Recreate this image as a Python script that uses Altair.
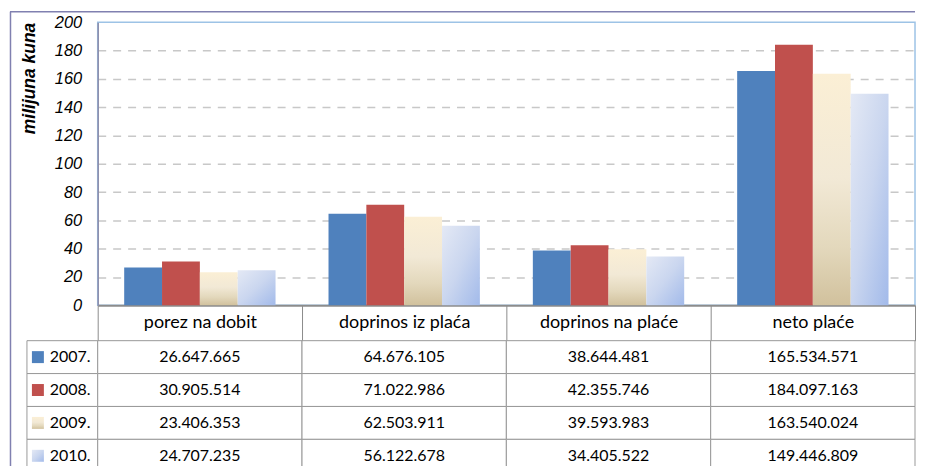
import altair as alt
import pandas as pd

categories = ["porez na dobit", "doprinos iz plaća", "doprinos na plaće", "neto plaće"]
years = ["2007.", "2008.", "2009.", "2010."]
values_2007 = [26647665, 64676105, 38644481, 165534571]
values_2008 = [30905514, 71022986, 42355746, 184097163]
values_2009 = [23406353, 62503911, 39593983, 163540024]
values_2010 = [24707235, 56122678, 34405522, 149446809]
y_ticks = [0, 20, 40, 60, 80, 100, 120, 140, 160, 180, 200]

series = dict(zip(years, [values_2007, values_2008, values_2009, values_2010]))

rows = []
for yr, vals in series.items():
    for cat, v in zip(categories, vals):
        rows.append({"year": yr, "category": cat, "mil": v / 1e6,
                     "label": f"{v:,}".replace(",", ".")})
df = pd.DataFrame(rows)
legend_df = pd.DataFrame({"year": years})

fills = {
    "2007.": "#4F81BD",
    "2008.": "#C0504D",
    "2009.": alt.Gradient(gradient="linear", x1=0, y1=0, x2=0, y2=1, stops=[
        alt.GradientStop(offset=0, color="#FBEFD5"),
        alt.GradientStop(offset=0.45, color="#F2E9D6"),
        alt.GradientStop(offset=0.75, color="#E3D8BC"),
        alt.GradientStop(offset=1, color="#D1C19D")]),
    "2010.": alt.Gradient(gradient="linear", x1=0, y1=0, x2=1, y2=1, stops=[
        alt.GradientStop(offset=0, color="#E4E9F5"),
        alt.GradientStop(offset=0.5, color="#CAD6EF"),
        alt.GradientStop(offset=1, color="#A2BAEA")]),
}

FONT_AX = "Liberation Sans"
FONT_TB = "Lato"
GRAY = "#8C8C8C"
PLOT_W = 820
LEG_W = 71

x_scale = alt.Scale(domain=categories, paddingInner=0, paddingOuter=0)
xo_scale = alt.Scale(domain=years, paddingInner=0, paddingOuter=0.7)
y_scale = alt.Scale(domain=[0, 200], nice=False)

x_axis = alt.Axis(title=None, labelFont=FONT_TB, labelFontSize=18, labelColor="#000",
                  labelAngle=0, labelBaseline="middle", labelPadding=-17.75,
                  tickBand="extent", tickSize=35.5, tickColor=GRAY, tickWidth=1,
                  domainColor=GRAY, domainWidth=2, grid=False)
y_axis = alt.Axis(values=y_ticks, title="milijuna kuna", titleFont=FONT_AX,
                  titleFontSize=17.5, titleFontWeight="bold", titleFontStyle="italic",
                  titleColor="#000", titleAngle=270, titleX=-68, titleY=0,
                  titleAlign="right", titleBaseline="middle",
                  labelFont=FONT_AX, labelFontSize=16.5, labelFontStyle="italic",
                  labelColor="#000", labelPadding=16, ticks=False,
                  domainColor="#8C8CAA", domainWidth=1.5,
                  grid=True, gridColor="#C8C8C8", gridDash=[8, 7], gridWidth=1.5,
                  gridOpacity={"condition": {"test": "datum.value == 0 || datum.value == 200",
                                             "value": 0}, "value": 1})

bar_layers = []
for yr in years:
    bar_layers.append(
        alt.Chart(df).transform_filter(alt.datum.year == yr)
        .mark_bar(fill=fills[yr], opacity=1)
        .encode(
            x=alt.X("category:N", scale=x_scale, axis=x_axis, sort=categories),
            xOffset=alt.XOffset("year:N", scale=xo_scale, sort=years),
            y=alt.Y("mil:Q", scale=y_scale, axis=y_axis),
        )
    )
bars = alt.layer(*bar_layers).properties(
    width=PLOT_W, height=284,
    view=alt.ViewBackground(stroke="#9DC3E6", strokeWidth=1.5),
)

frame_df = pd.DataFrame({"k": [0]})
FRAME = "#8080B0"
blank = alt.layer(
    alt.Chart(frame_df).mark_rule(color=FRAME, strokeWidth=1.5).encode(
        x=alt.value(-16.5), y=alt.value(-10.5), y2=alt.value(452)),
    alt.Chart(frame_df).mark_rule(color=FRAME, strokeWidth=1.5).encode(
        x=alt.value(-17), x2=alt.value(LEG_W + PLOT_W), y=alt.value(-10.5)),
).properties(width=LEG_W, height=284)

TABLE_H = 132
row_scale = alt.Scale(domain=years, paddingInner=0, paddingOuter=0)

legend_cells = alt.Chart(legend_df).mark_rect(fill="white", stroke="#999999",
                                              strokeWidth=1).encode(
    x=alt.value(0), x2=alt.value(LEG_W),
    y=alt.Y("year:N", scale=row_scale, axis=None, sort=years),
)
legend_layers = [legend_cells]
for yr in years:
    legend_layers.append(
        alt.Chart(legend_df).transform_filter(alt.datum.year == yr)
        .mark_square(fill=fills[yr], size=144, opacity=1, strokeWidth=0)
        .encode(x=alt.value(11),
                y=alt.Y("year:N", scale=row_scale, axis=None, sort=years))
    )
legend_layers.append(
    alt.Chart(legend_df).mark_text(font=FONT_TB, fontSize=16, color="#000",
                                   align="left", baseline="middle")
    .encode(x=alt.value(23),
            y=alt.Y("year:N", scale=row_scale, axis=None, sort=years),
            text="year:N")
)
legend = alt.layer(*legend_layers).properties(width=LEG_W, height=TABLE_H)

table_cells = alt.Chart(df).mark_rect(fill="white", stroke="#999999",
                                      strokeWidth=1).encode(
    x=alt.X("category:N", scale=x_scale, axis=None, sort=categories),
    y=alt.Y("year:N", scale=row_scale, axis=None, sort=years),
)
table_text = alt.Chart(df).mark_text(font=FONT_TB, fontSize=16, color="#000",
                                     align="center", baseline="middle").encode(
    x=alt.X("category:N", scale=x_scale, axis=None, sort=categories),
    y=alt.Y("year:N", scale=row_scale, axis=None, sort=years),
    text="label:N",
)
table = alt.layer(table_cells, table_text).properties(width=PLOT_W, height=TABLE_H)

chart = alt.concat(
    blank, bars, legend, table, columns=2,
    spacing={"row": 35.5, "column": 0}, bounds="flush",
).properties(
    padding={"left": 0, "top": 1.5, "right": 0, "bottom": 0},
).configure(background="white").configure_view(stroke="transparent")

chart.save("out.html", embed_options={"renderer": "svg", "actions": False})
